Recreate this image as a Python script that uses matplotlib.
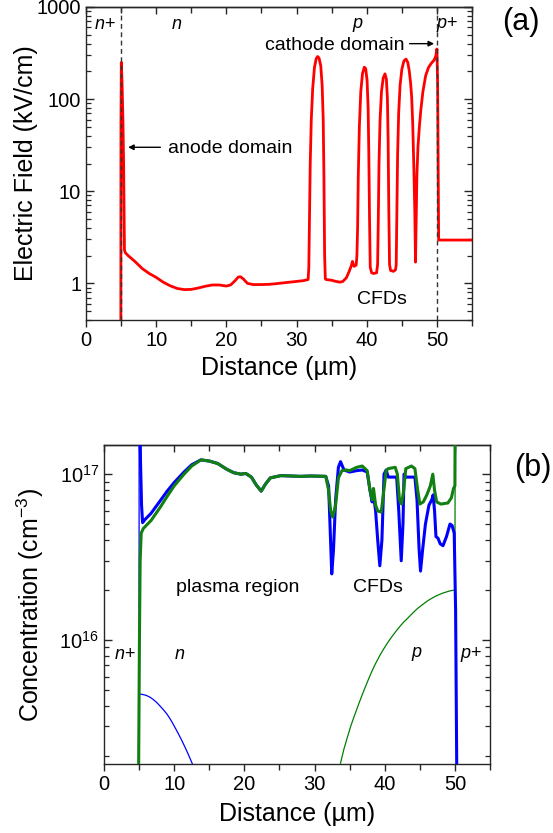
import matplotlib
matplotlib.use('Agg')
import matplotlib.pyplot as plt
from matplotlib.ticker import LogLocator, MultipleLocator, NullFormatter

plt.rcParams['font.family'] = ['Liberation Sans', 'DejaVu Sans']
plt.rcParams['mathtext.fontset'] = 'custom'
plt.rcParams['mathtext.rm'] = 'Liberation Sans'
plt.rcParams['mathtext.it'] = 'Liberation Sans:italic'

# ---------------- data: panel (a) electric field ----------------
field_x = [4.96, 4.98, 5.03, 5.14, 5.26, 5.36, 5.43, 5.48, 5.6, 6, 7, 8, 9, 10, 11, 12, 13, 14,
           15, 16, 17, 18, 19, 20, 20.6, 21.2, 21.7, 22.0, 22.4, 23.0, 23.8, 25, 26, 27, 28,
           29, 30, 31, 31.65, 31.75, 31.85, 31.95, 32.1, 32.3, 32.55, 32.8, 33.0, 33.2, 33.45,
           33.65, 33.8, 33.9, 34.0, 34.1, 34.2, 35.0, 35.6, 36.2, 36.6, 37.1, 37.5, 37.8,
           37.96, 38.2, 38.5, 38.6, 38.7, 38.8, 38.95, 39.15, 39.4, 39.65, 39.85, 40.05,
           40.2, 40.3, 40.4, 40.5, 40.7, 41.0, 41.4, 41.55, 41.65, 41.75, 41.9, 42.1, 42.35,
           42.6, 42.8, 42.95, 43.05, 43.15, 43.25, 43.4, 43.8, 44.1, 44.2, 44.3, 44.4, 44.55,
           44.75, 45.0, 45.3, 45.6, 45.85, 46.05, 46.25, 46.4, 46.55, 46.7, 46.85, 46.95,
           47.05, 47.15, 47.3, 47.5, 47.7, 48.0, 48.4, 48.8, 49.2, 49.6, 49.85, 50.0, 50.1,
           50.2, 50.25, 55]
field_kVcm = [0.1, 50, 250, 150, 60, 20, 6, 2.3, 2.15, 2.0, 1.72, 1.45, 1.28, 1.16, 1.03, 0.94,
              0.88, 0.855, 0.86, 0.89, 0.93, 0.96, 0.96, 0.935, 0.96, 1.06, 1.17, 1.18, 1.12,
              1.0, 0.97, 0.97, 0.975, 0.99, 1.01, 1.03, 1.05, 1.07, 1.1, 1.5, 5, 20, 60, 130,
              220, 275, 290, 280, 230, 140, 60, 15, 2, 1.12, 1.1, 1.08, 1.05, 1.03, 1.05, 1.15,
              1.35, 1.55, 1.73, 1.53, 1.58, 2, 4, 15, 50, 120, 190, 222, 215, 160, 80, 25, 5,
              1.5, 1.3, 1.28, 1.3, 1.6, 5, 20, 60, 120, 170, 188, 165, 100, 35, 6, 1.6, 1.38,
              1.35, 1.4, 1.6, 6, 25, 70, 140, 210, 260, 272, 250, 205, 150, 106, 55, 20, 6,
              1.7, 5, 15, 30, 50, 75, 120, 180, 220, 245, 265, 295, 350, 150, 10, 2.95, 2.95]

# ---------------- data: panel (b) concentrations ----------------
elec_x = [5.1, 5.2, 5.35, 5.5, 5.8, 6.7, 8.0, 9.0, 10.0, 11.4, 12.5, 13.8, 15.0, 16.2, 17.5,
          18.5, 19.5, 20.2, 21.0, 21.7, 22.4, 23.0, 23.7, 25.2, 26.6, 28.0, 29.5, 31.6, 32.0,
          32.2, 32.45, 32.7, 33.0, 33.4, 33.7, 34.2, 35.0, 36.0, 36.8, 37.5, 37.9, 38.2, 38.4,
          38.7, 39.0, 39.3, 39.6, 39.9, 40.2, 40.5, 41.7, 42.0, 42.35, 42.6, 42.75, 43.0, 44.3,
          44.6, 44.9, 45.1, 45.4, 45.8, 46.3, 46.7, 46.9, 47.1, 47.3, 47.6, 47.9, 48.3, 48.8,
          49.3, 49.6, 49.9, 50.1, 50.3]
elec_cm3 = [3e17, 1.2e17, 6.5e16, 5.1e16, 5.3e16, 5.8e16, 6.9e16, 7.9e16, 8.9e16, 1.03e17,
            1.14e17, 1.22e17, 1.2e17, 1.16e17, 1.07e17, 1.02e17, 1.0e17, 1.01e17, 9.6e16,
            8.6e16, 7.9e16, 8.7e16, 9.5e16, 9.8e16, 9.75e16, 9.7e16, 9.75e16, 9.7e16, 8.5e16,
            5e16, 2.5e16, 3.5e16, 7e16, 1.1e17, 1.19e17, 1.06e17, 1.03e17, 1.05e17, 1.06e17,
            1.03e17, 8e16, 6.8e16, 7.5e16, 6e16, 4e16, 2.8e16, 4e16, 1.0e17, 1.06e17, 9.6e16,
            9.6e16, 6e16, 3.0e16, 5e16, 1.0e17, 9.6e16, 9.6e16, 7e16, 3.5e16, 2.6e16, 3.5e16,
            5e16, 6.5e16, 7e16, 7.5e16, 6e16, 4.2e16, 4.1e16, 3.8e16, 3.7e16, 4.2e16, 5.0e16,
            4.9e16, 4.4e16, 1.5e16, 1e15]

hole_x = [4.9, 5.05, 5.15, 5.3, 5.6, 6.7, 8.0, 9.05, 10.0, 11.4, 12.5, 13.8, 15.0, 16.2, 17.5,
          18.5, 19.5, 20.2, 21.0, 21.7, 22.4, 23.0, 23.7, 25.2, 26.6, 28.0, 29.5, 31.6, 32.0,
          32.3, 32.6, 33.0, 33.4, 33.9, 34.5, 35.0, 36.0, 36.8, 37.5, 37.9, 38.2, 38.4, 38.7,
          39.0, 39.5, 39.8, 40.2, 40.5, 41.5, 41.8, 42.1, 42.4, 42.7, 43.0, 43.8, 44.3, 44.7,
          45.0, 45.5, 46.0, 46.5, 46.85, 47.1, 47.4, 48.0, 49.0, 49.5, 49.8, 50.0, 50.05]
hole_cm3 = [1e15, 1e16, 3e16, 4.4e16, 4.7e16, 5.25e16, 6.3e16, 7.4e16, 8.5e16, 1.0e17, 1.12e17,
            1.22e17, 1.2e17, 1.16e17, 1.07e17, 1.02e17, 1.0e17, 1.01e17, 9.6e16, 8.6e16,
            7.9e16, 8.7e16, 9.5e16, 9.8e16, 9.75e16, 9.7e16, 9.75e16, 9.7e16, 8e16, 6e16,
            5.5e16, 6.5e16, 9.5e16, 1.05e17, 1.06e17, 1.05e17, 1.1e17, 1.12e17, 1.05e17, 8e16,
            7e16, 8.2e16, 6.5e16, 6.0e16, 5.9e16, 7.5e16, 1.05e17, 1.08e17, 1.1e17, 1.0e17,
            7e16, 6.6e16, 8e16, 1.08e17, 1.12e17, 1.08e17, 8e16, 6.6e16, 6.8e16, 7.5e16,
            8.5e16, 1.0e17, 8e16, 6.8e16, 6.6e16, 6.7e16, 7.2e16, 8.2e16, 8.5e16, 3e17]

donor_x = [0, 5.0, 5.0, 5.5, 6, 6.5, 7, 7.5, 8, 8.5, 9, 9.5, 10, 10.5, 11, 11.5, 12, 12.6]
donor_cm3 = [3e17, 3e17, 4.7e15, 4.68e15, 4.62e15, 4.52e15, 4.37e15, 4.19e15, 3.98e15,
             3.77e15, 3.55e15, 3.29e15, 3.02e15, 2.76e15, 2.51e15, 2.27e15, 2.04e15, 1.78e15]

acceptor_x = [33.7, 34.2, 34.7, 35.2, 35.7, 36.2, 36.7, 37.2, 37.7, 38.2, 38.7, 39.2, 39.7,
              40.2, 40.7, 41.2, 41.7, 42.2, 42.7, 43.2, 43.7, 44.2, 44.7, 45.2, 45.7, 46.2,
              46.7, 47.2, 47.7, 48.2, 48.7, 49.2, 49.7, 50.0, 50.05, 55]
acceptor_cm3 = [1.8e15, 2.2e15, 2.6e15, 3.05e15, 3.5e15, 4.0e15, 4.55e15, 5.15e15, 5.8e15,
                6.5e15, 7.2e15, 7.9e15, 8.6e15, 9.3e15, 1.0e16, 1.07e16, 1.14e16, 1.21e16,
                1.28e16, 1.34e16, 1.41e16, 1.48e16, 1.55e16, 1.61e16, 1.67e16, 1.73e16,
                1.78e16, 1.83e16, 1.87e16, 1.91e16, 1.94e16, 1.97e16, 1.99e16, 2.0e16, 3e17,
                3e17]

xticks = [0, 10, 20, 30, 40, 50]
field_ticks = [1, 10, 100, 1000]
field_ticklabels = ['1', '10', '100', '1000']
conc_ticks = [1e16, 1e17]
conc_ticklabels = [r'$10^{16}$', r'$10^{17}$']

# ---------------- figure ----------------
fig = plt.figure(figsize=(5.53, 8.33), dpi=100)
ax1 = fig.add_axes([86/553, 1 - 320/833, 386/553, 313/833])
ax2 = fig.add_axes([104/553, 1 - 764/833, 386/553, 319/833])

spine_col = '#262626'
TICK = 14.5
LAB = 18


def style(ax, xpad):
    for s in ax.spines.values():
        s.set_color(spine_col)
        s.set_linewidth(1.0)
    ax.set_xlim(0, 55)
    ax.set_xticks(xticks)
    ax.xaxis.set_minor_locator(MultipleLocator(5))
    ax.tick_params(axis='x', which='major', direction='out', length=5, width=1,
                   color=spine_col, labelsize=TICK, pad=3)
    ax.tick_params(axis='x', which='minor', direction='out', length=4, width=1,
                   color=spine_col)
    ax.tick_params(axis='y', which='major', direction='in', length=6, width=1,
                   left=True, right=True, color=spine_col, labelsize=TICK)
    ax.tick_params(axis='y', which='minor', direction='in', length=3.5, width=0.9,
                   left=True, right=True, color=spine_col)
    sec = ax.secondary_xaxis('top')
    sec.set_xticks(xticks)
    sec.xaxis.set_minor_locator(MultipleLocator(5))
    sec.tick_params(axis='x', which='major', direction='in', length=5, width=1,
                    color=spine_col, labeltop=False)
    sec.tick_params(axis='x', which='minor', direction='in', length=4, width=1,
                    color=spine_col)
    sec.spines['top'].set_color(spine_col)
    sec.spines['top'].set_linewidth(1.0)
    ax.set_xlabel('Distance (\u00b5m)', fontsize=LAB, labelpad=xpad)


# ---- panel (a)
ax1.plot(field_x, field_kVcm, color='#ff0000', lw=2.0, zorder=3, solid_joinstyle='round')
ax1.set_yscale('log')
ax1.set_ylim(0.4, 1000)
style(ax1, 4)
ax1.set_yticks(field_ticks)
ax1.set_yticklabels(field_ticklabels)
ax1.yaxis.set_minor_locator(LogLocator(base=10, subs=[2, 3, 4, 5, 6, 7, 8, 9]))
ax1.yaxis.set_minor_formatter(NullFormatter())
ax1.set_ylabel('Electric Field (kV/cm)', fontsize=LAB)
ax1.yaxis.set_label_coords(-0.125, 0.5)
for xv in (5, 50):
    ax1.axvline(xv, color='#333333', lw=1.0, ls=(0, (3.5, 2.5)), zorder=4)

ax1.text(2.7, 640, r'$n$+', fontsize=13, ha='center', va='center')
ax1.text(12.9, 640, r'$n$', fontsize=13, ha='center', va='center')
ax1.text(38.7, 640, r'$p$', fontsize=13, ha='center', va='center')
ax1.text(51.4, 640, r'$p$+', fontsize=13, ha='center', va='center')
ax1.text(45.4, 385, 'cathode domain', fontsize=14, ha='right', va='center')
ax1.annotate('', xy=(49.6, 400), xytext=(46.1, 400),
             arrowprops=dict(arrowstyle='-|>', color='black', lw=1.0,
                             mutation_scale=8, shrinkA=0, shrinkB=0))
ax1.text(11.7, 29, 'anode domain', fontsize=14, ha='left', va='center')
ax1.annotate('', xy=(6.0, 30), xytext=(10.6, 30),
             arrowprops=dict(arrowstyle='-|>', color='black', lw=1.0,
                             mutation_scale=8, shrinkA=0, shrinkB=0))
ax1.text(42.1, 0.66, 'CFDs', fontsize=14, ha='center', va='center')
fig.text(521/553, 1 - 22/833, '(a)', fontsize=22, ha='center', va='center')

# ---- panel (b)
ax2.plot(donor_x, donor_cm3, color='#0000ff', lw=0.9, zorder=2)
ax2.plot(acceptor_x, acceptor_cm3, color='#008000', lw=0.9, zorder=2)
ax2.plot(elec_x, elec_cm3, color='#0000ff', lw=2.2, zorder=3)
ax2.plot(hole_x, hole_cm3, color='#118011', lw=2.2, zorder=4)
ax2.set_yscale('log')
ax2.set_ylim(1.78e15, 1.5e17)
style(ax2, 6)
ax2.set_yticks(conc_ticks)
ax2.set_yticklabels(conc_ticklabels)
ax2.yaxis.set_minor_locator(LogLocator(base=10, subs=[2, 3, 4, 5, 6, 7, 8, 9]))
ax2.yaxis.set_minor_formatter(NullFormatter())
ax2.set_ylabel(r'Concentration (cm$^{-3}$)', fontsize=LAB)
ax2.yaxis.set_label_coords(-0.15, 0.5)

ax2.text(10.2, 2.07e16, 'plasma region', fontsize=14, ha='left', va='center')
ax2.text(39.1, 2.07e16, 'CFDs', fontsize=14, ha='center', va='center')
ax2.text(3.0, 8.2e15, r'$n$+', fontsize=13, ha='center', va='center')
ax2.text(10.7, 8.2e15, r'$n$', fontsize=13, ha='center', va='center')
ax2.text(44.6, 8.2e15, r'$p$', fontsize=13, ha='center', va='center')
ax2.text(52.3, 8.2e15, r'$p$+', fontsize=13, ha='center', va='center')
fig.text(533/553, 1 - 468/833, '(b)', fontsize=22, ha='center', va='center')

fig.savefig('out.png', dpi=100)
